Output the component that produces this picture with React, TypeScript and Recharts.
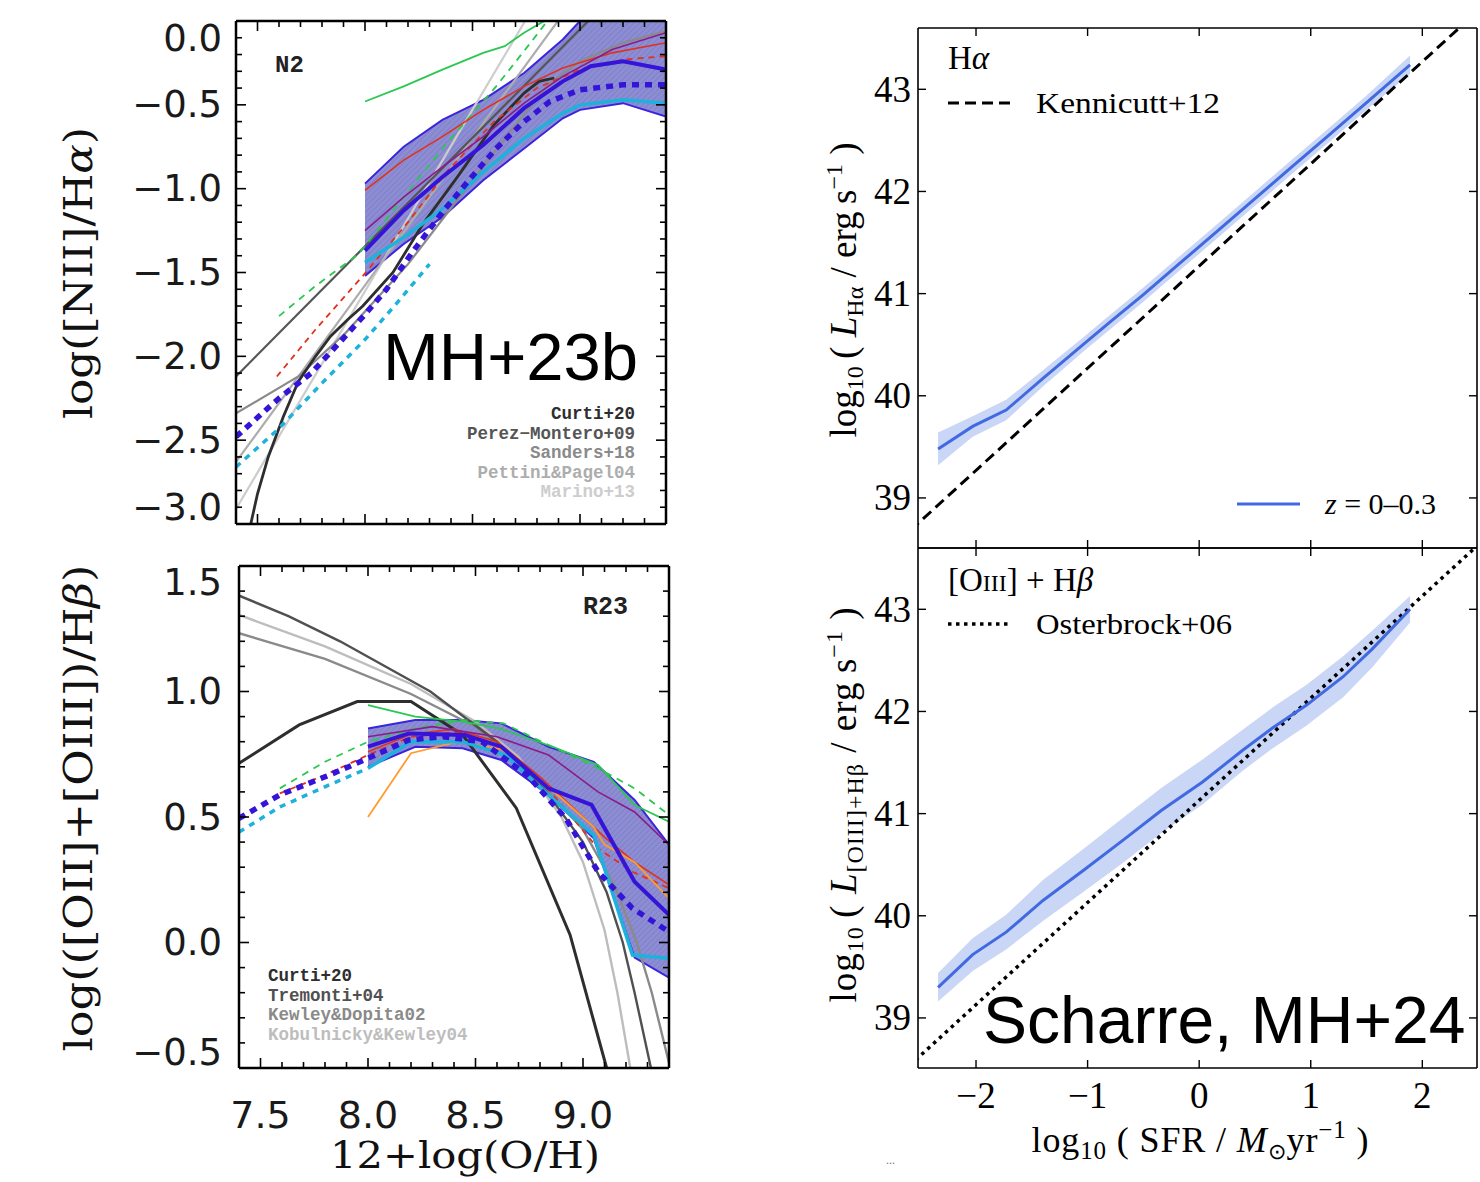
import React from 'react';
import { ComposedChart, Line, Area, XAxis, YAxis } from 'recharts';

// ---------------- N2 panel data (x = 12+log(O/H), y = log([NII]/Ha)) ----------------
const n2BandX = [8.0, 8.18, 8.36, 8.55, 8.74, 8.92, 9.0, 9.2, 9.4];
const n2BandLo = [-1.52, -1.33, -1.17, -0.95, -0.76, -0.58, -0.53, -0.49, -0.57];
const n2BandHi = [-0.97, -0.75, -0.59, -0.47, -0.31, -0.11, 0.0, 0.15, 0.2];

const n2BlueX = [8.0, 8.18, 8.36, 8.55, 8.74, 8.92, 9.05, 9.2, 9.4];
const n2BlueY = [-1.37, -1.13, -0.93, -0.74, -0.52, -0.36, -0.27, -0.24, -0.29];
const n2BlueDashX = [7.4, 7.6, 7.75, 7.88, 8.0, 8.1, 8.22, 8.36, 8.49, 8.61, 8.74, 8.86, 9.0, 9.2, 9.4];
const n2BlueDashY = [-2.48, -2.25, -2.1, -1.92, -1.75, -1.6, -1.38, -1.14, -0.94, -0.76, -0.6, -0.48, -0.41, -0.38, -0.38];
const n2CyanX = [8.0, 8.18, 8.36, 8.55, 8.74, 8.92, 9.0, 9.2, 9.4];
const n2CyanY = [-1.44, -1.29, -1.12, -0.9, -0.7, -0.55, -0.5, -0.47, -0.49];
const n2CyanDashX = [7.4, 7.6, 7.8, 8.0, 8.15, 8.3];
const n2CyanDashY = [-2.66, -2.43, -2.16, -1.9, -1.68, -1.45];
const n2RedX = [8.0, 8.18, 8.36, 8.55, 8.74, 8.92, 9.15, 9.4];
const n2RedY = [-1.01, -0.83, -0.69, -0.53, -0.39, -0.28, -0.19, -0.13];
const n2RedDashX = [7.59, 7.77, 7.99, 8.2, 8.38, 8.6, 8.8, 9.0, 9.2, 9.4];
const n2RedDashY = [-2.12, -1.84, -1.52, -1.2, -0.9, -0.6, -0.4, -0.29, -0.23, -0.21];
const n2PurpleX = [8.0, 8.18, 8.36, 8.55, 8.74, 8.92, 9.15, 9.4];
const n2PurpleY = [-1.25, -1.05, -0.87, -0.69, -0.49, -0.33, -0.17, -0.07];
const n2GreenX = [8.0, 8.18, 8.36, 8.55, 8.65, 8.74, 8.86];
const n2GreenY = [-0.48, -0.39, -0.29, -0.19, -0.15, -0.07, 0.02];
const n2GreenDashX = [7.6, 7.77, 7.97, 8.18, 8.38, 8.61, 8.77, 8.86];
const n2GreenDashY = [-1.76, -1.58, -1.39, -1.05, -0.73, -0.39, -0.13, 0.02];

const n2CurtiX = [7.46, 7.5, 7.55, 7.62, 7.69, 7.77, 7.84, 7.92, 7.99, 8.13, 8.27, 8.43, 8.6, 8.74, 8.81, 8.88];
const n2CurtiY = [-3.05, -2.82, -2.6, -2.36, -2.15, -2.0, -1.88, -1.78, -1.7, -1.5, -1.21, -0.93, -0.62, -0.43, -0.36, -0.34];
const n2PerezX = [7.4, 9.1];
const n2PerezY = [-2.12, 0.08];
const n2SandersX = [7.4, 7.69, 7.91, 8.2, 8.5, 8.7, 8.85, 9.0, 9.2, 9.4];
const n2SandersY = [-2.34, -2.12, -1.86, -1.45, -0.95, -0.62, -0.38, -0.24, -0.13, -0.06];
const n2PettiniX = [7.4, 9.0];
const n2PettiniY = [-2.63, 0.18];
const n2MarinoX = [7.4, 8.8];
const n2MarinoY = [-2.91, 0.12];

// ---------------- R23 panel data ----------------
const r23BandX = [8.0, 8.22, 8.44, 8.62, 8.84, 9.05, 9.24, 9.4];
const r23BandLo = [0.7, 0.78, 0.774, 0.727, 0.588, 0.415, -0.06, -0.14];
const r23BandHi = [0.853, 0.886, 0.886, 0.873, 0.78, 0.72, 0.568, 0.39];

const r23BlueX = [8.0, 8.19, 8.45, 8.62, 8.84, 9.04, 9.24, 9.4];
const r23BlueY = [0.78, 0.833, 0.827, 0.78, 0.614, 0.548, 0.242, 0.11];
const r23BlueDashX = [7.4, 7.59, 7.82, 8.0, 8.19, 8.35, 8.53, 8.74, 8.92, 9.07, 9.23, 9.4];
const r23BlueDashY = [0.495, 0.588, 0.667, 0.734, 0.807, 0.82, 0.8, 0.667, 0.495, 0.282, 0.136, 0.043];
const r23CyanDashX = [7.4, 7.59, 7.82, 8.0];
const r23CyanDashY = [0.44, 0.54, 0.628, 0.694];
const r23CyanX = [8.0, 8.2, 8.44, 8.64, 8.84, 9.05, 9.23, 9.4];
const r23CyanY = [0.694, 0.8, 0.8, 0.747, 0.588, 0.428, -0.05, -0.063];
const r23GreenX = [8.0, 8.22, 8.44, 8.61, 8.86, 9.07, 9.24, 9.4];
const r23GreenY = [0.946, 0.9, 0.88, 0.853, 0.78, 0.707, 0.548, 0.481];
const r23GreenDashX = [7.59, 7.8, 8.0, 8.22, 8.44, 8.63, 8.84, 9.07, 9.24, 9.4];
const r23GreenDashY = [0.614, 0.72, 0.8, 0.853, 0.886, 0.873, 0.787, 0.694, 0.614, 0.508];
const r23RedDashX = [7.59, 7.8, 8.0, 8.2, 8.44, 8.65, 8.85, 9.07, 9.23, 9.4];
const r23RedDashY = [0.594, 0.667, 0.747, 0.82, 0.84, 0.76, 0.6, 0.375, 0.282, 0.216];
const r23RedX = [8.0, 8.2, 8.4, 8.6, 8.8, 9.0, 9.1, 9.24, 9.4];
const r23RedY = [0.76, 0.83, 0.85, 0.8, 0.66, 0.5, 0.42, 0.32, 0.23];
const r23PurpleX = [8.0, 8.3, 8.6, 8.84, 9.07, 9.24, 9.4];
const r23PurpleY = [0.82, 0.86, 0.82, 0.747, 0.6, 0.52, 0.389];
const r23OrangeX = [8.0, 8.2, 8.42, 8.62, 8.84, 9.05, 9.1, 9.24, 9.4];
const r23OrangeY = [0.5, 0.754, 0.8, 0.77, 0.62, 0.46, 0.39, 0.32, 0.176];

const r23CurtiX = [7.4, 7.68, 7.95, 8.2, 8.44, 8.69, 8.94, 9.11];
const r23CurtiY = [0.714, 0.867, 0.96, 0.96, 0.827, 0.535, 0.03, -0.5];
const r23TremontiX = [7.35, 7.63, 7.87, 8.29, 8.6, 8.83, 9.0, 9.11, 9.185, 9.24, 9.316];
const r23TremontiY = [1.4, 1.3, 1.2, 1.0, 0.8, 0.6, 0.4, 0.2, 0.0, -0.2, -0.5];
const r23KDX = [7.4, 7.8, 8.2, 8.5, 8.8, 9.0, 9.15, 9.25, 9.32, 9.4];
const r23KDY = [1.232, 1.13, 0.99, 0.86, 0.64, 0.45, 0.22, 0.0, -0.2, -0.48];
const r23KKX = [7.4, 7.8, 8.2, 8.5, 8.7, 8.9, 9.0, 9.1, 9.16, 9.22];
const r23KKY = [1.305, 1.18, 1.03, 0.88, 0.74, 0.5, 0.32, 0.05, -0.2, -0.5];

// ---------------- Right panels (x = log10 SFR) ----------------
const haX = [-2.34, -2.03, -1.73, -1.4, -1.03, -0.8, -0.5, -0.17, 0.16, 0.49, 0.82, 1.15, 1.49, 1.89];
const haY = [39.48, 39.7, 39.86, 40.17, 40.51, 40.72, 40.99, 41.3, 41.61, 41.92, 42.23, 42.54, 42.86, 43.24];
const haLo = [39.32, 39.6, 39.76, 40.09, 40.44, 40.65, 40.92, 41.23, 41.54, 41.85, 42.16, 42.47, 42.79, 43.15];
const haHi = [39.64, 39.8, 39.96, 40.25, 40.58, 40.79, 41.06, 41.37, 41.68, 41.99, 42.3, 42.61, 42.93, 43.33];
const kennX = [-2.7, 2.7];
const kennY = [38.57, 43.97];

const oX = [-2.34, -2.03, -1.73, -1.4, -1.03, -0.67, -0.34, 0.03, 0.39, 0.66, 0.96, 1.29, 1.55, 1.89];
const oY = [39.3, 39.62, 39.84, 40.15, 40.45, 40.75, 41.03, 41.31, 41.62, 41.84, 42.06, 42.34, 42.61, 43.0];
const oLo = [39.16, 39.46, 39.67, 39.95, 40.24, 40.53, 40.81, 41.09, 41.42, 41.64, 41.86, 42.14, 42.43, 42.87];
const oHi = [39.44, 39.78, 40.01, 40.35, 40.66, 40.97, 41.25, 41.53, 41.82, 42.04, 42.26, 42.54, 42.79, 43.13];
const ostX = [-2.7, 2.7];
const ostY = [38.43, 43.83];

// ---------------- Ticks ----------------
const leftXTicks = [7.5, 7.6, 7.7, 7.8, 7.9, 8.0, 8.1, 8.2, 8.3, 8.4, 8.5, 8.6, 8.7, 8.8, 8.9, 9.0, 9.1, 9.2, 9.3];
const leftXMajor = [7.5, 8.0, 8.5, 9.0];
const n2YTicks = [-3.0, -2.9, -2.8, -2.7, -2.6, -2.5, -2.4, -2.3, -2.2, -2.1, -2.0, -1.9, -1.8, -1.7, -1.6, -1.5, -1.4, -1.3, -1.2, -1.1, -1.0, -0.9, -0.8, -0.7, -0.6, -0.5, -0.4, -0.3, -0.2, -0.1, 0.0];
const n2YMajor = [-3.0, -2.5, -2.0, -1.5, -1.0, -0.5, 0.0];
const r23YTicks = [-0.5, -0.4, -0.3, -0.2, -0.1, 0.0, 0.1, 0.2, 0.3, 0.4, 0.5, 0.6, 0.7, 0.8, 0.9, 1.0, 1.1, 1.2, 1.3, 1.4, 1.5];
const r23YMajor = [-0.5, 0.0, 0.5, 1.0, 1.5];
const rightXTicks = [-2, -1, 0, 1, 2];
const rightYTicks = [39, 40, 41, 42, 43];

const n2Legend = ['Curti+20', 'Perez\u2212Montero+09', 'Sanders+18', 'Pettini&Pagel04', 'Marino+13'];
const n2LegendColors = ['#2e2e2e', '#555555', '#8a8a8a', '#adadad', '#cdcdcd'];
const r23Legend = ['Curti+20', 'Tremonti+04', 'Kewley&Dopita02', 'Kobulnicky&Kewley04'];
const r23LegendColors = ['#2e2e2e', '#505050', '#8a8a8a', '#bdbdbd'];

// ---------------- helpers ----------------
type SeriesDef = { key: string; xs: number[]; ys: number[]; color: string; width: number; dash?: string };
type BandDef = { key: string; xs: number[]; lo: number[]; hi: number[]; fill: string; stroke: string; strokeWidth: number; opacity: number };

function buildRows(series: SeriesDef[], bands: BandDef[]) {
  const map = new Map<number, any>();
  const row = (x: number) => {
    let r = map.get(x);
    if (!r) {
      r = { x };
      map.set(x, r);
    }
    return r;
  };
  bands.forEach((b) => b.xs.forEach((x, i) => { row(x)[b.key] = [b.lo[i], b.hi[i]]; }));
  series.forEach((s) => s.xs.forEach((x, i) => { row(x)[s.key] = s.ys[i]; }));
  return Array.from(map.values()).sort((a, b) => a.x - b.x);
}

const near = (a: number, b: number) => Math.abs(a - b) < 1e-6;

type LabelCfg = { font: string; size: number; gap: number; fmt: (v: number) => string; onlyMajor: boolean; edge?: number[]; edgeShift?: number; fill: string };
type TickCfg = { side: 'bottom' | 'top' | 'left' | 'right'; major: number[]; majorLen: number; minorLen: number; stroke: string; strokeWidth: number; label?: LabelCfg };

function makeTick(cfg: TickCfg) {
  return function TickMark(props: any) {
    const { x, y, payload } = props;
    const v: number = payload.value;
    const isMajor = cfg.major.some((m) => near(m, v));
    const len = isMajor ? cfg.majorLen : cfg.minorLen;
    let x2 = x;
    let y2 = y;
    if (cfg.side === 'bottom') y2 = y - len;
    else if (cfg.side === 'top') y2 = y + len;
    else if (cfg.side === 'left') x2 = x + len;
    else x2 = x - len;
    let label: any = null;
    const L = cfg.label;
    if (L && (!L.onlyMajor || isMajor)) {
      if (cfg.side === 'bottom') {
        label = (
          <text x={x} y={y + L.gap} textAnchor="middle" fontFamily={L.font} fontSize={L.size} fill={L.fill}>
            {L.fmt(v)}
          </text>
        );
      } else if (cfg.side === 'left') {
        let dy = 0;
        if (L.edge && L.edgeShift) {
          if (near(v, L.edge[1])) dy = L.edgeShift;
          if (near(v, L.edge[0])) dy = -L.edgeShift;
        }
        label = (
          <text x={x - L.gap} y={y + dy} textAnchor="end" dominantBaseline="central" fontFamily={L.font} fontSize={L.size} fill={L.fill}>
            {L.fmt(v)}
          </text>
        );
      }
    }
    return (
      <g>
        <line x1={x} y1={y} x2={x2} y2={y2} stroke={cfg.stroke} strokeWidth={cfg.strokeWidth} />
        {label}
      </g>
    );
  };
}

type PanelProps = {
  left: number; top: number; width: number; height: number;
  plot: { l: number; t: number; r: number; b: number };
  xDomain: number[]; yDomain: number[];
  xTicks: number[]; xMajor: number[]; yTicks: number[]; yMajor: number[];
  majorLen: number; minorLen: number; frameW: number; tickW: number;
  xLabel?: LabelCfg; yLabel?: LabelCfg;
  series: SeriesDef[]; bands: BandDef[]; defs?: any;
};

function Panel(p: PanelProps) {
  const rows = buildRows(p.series, p.bands);
  const margin = {
    top: p.plot.t - p.top - 1,
    left: p.plot.l - p.left - 1,
    right: p.left + p.width - p.plot.r - 1,
    bottom: p.top + p.height - p.plot.b - 1,
  };
  const axisLine = { stroke: '#000', strokeWidth: p.frameW };
  const common = { stroke: '#000', strokeWidth: p.tickW, majorLen: p.majorLen, minorLen: p.minorLen };
  return (
    <div style={{ position: 'absolute', left: p.left, top: p.top, width: p.width, height: p.height }}>
      <ComposedChart width={p.width} height={p.height} data={rows} margin={margin}>
        {p.defs ? <defs>{p.defs}</defs> : null}
        <XAxis xAxisId="b" dataKey="x" type="number" orientation="bottom" domain={p.xDomain} allowDataOverflow height={1}
          ticks={p.xTicks} interval={0} tickSize={0} tickMargin={0} tickLine={false} axisLine={axisLine}
          tick={makeTick({ side: 'bottom', major: p.xMajor, ...common, label: p.xLabel })} />
        <XAxis xAxisId="t" dataKey="x" type="number" orientation="top" domain={p.xDomain} allowDataOverflow height={1}
          ticks={p.xTicks} interval={0} tickSize={0} tickMargin={0} tickLine={false} axisLine={axisLine}
          tick={makeTick({ side: 'top', major: p.xMajor, ...common })} />
        <YAxis yAxisId="l" type="number" orientation="left" domain={p.yDomain} allowDataOverflow width={1}
          ticks={p.yTicks} interval={0} tickSize={0} tickMargin={0} tickLine={false} axisLine={axisLine}
          tick={makeTick({ side: 'left', major: p.yMajor, ...common, label: p.yLabel })} />
        <YAxis yAxisId="r" type="number" orientation="right" domain={p.yDomain} allowDataOverflow width={1}
          ticks={p.yTicks} interval={0} tickSize={0} tickMargin={0} tickLine={false} axisLine={axisLine}
          tick={makeTick({ side: 'right', major: p.yMajor, ...common })} />
        {p.bands.map((b) => (
          <Area key={b.key} xAxisId="b" yAxisId="l" dataKey={b.key} type="linear" connectNulls
            fill={b.fill} fillOpacity={b.opacity} stroke={b.stroke} strokeWidth={b.strokeWidth}
            dot={false} activeDot={false} isAnimationActive={false} />
        ))}
        {p.series.map((s) => (
          <Line key={s.key} xAxisId="b" yAxisId="l" dataKey={s.key} type="linear" connectNulls
            stroke={s.color} strokeWidth={s.width} strokeDasharray={s.dash}
            dot={false} activeDot={false} isAnimationActive={false} />
        ))}
      </ComposedChart>
    </div>
  );
}

const fmt1 = (v: number) => v.toFixed(1).replace('-', '\u2212');
const fmt0 = (v: number) => String(v).replace('-', '\u2212');

const BLUE = '#3514d8';
const CYAN = '#1cb2dc';
const RED = '#e2301c';
const PURPLE = '#8a1c8a';
const GREEN = '#2ac850';
const ORANGE = '#ff9c30';

const n2Series: SeriesDef[] = [
  { key: 'marino', xs: n2MarinoX, ys: n2MarinoY, color: '#cdcdcd', width: 2.2 },
  { key: 'pettini', xs: n2PettiniX, ys: n2PettiniY, color: '#adadad', width: 2.2 },
  { key: 'sanders', xs: n2SandersX, ys: n2SandersY, color: '#8a8a8a', width: 2.2 },
  { key: 'perez', xs: n2PerezX, ys: n2PerezY, color: '#555555', width: 2.2 },
  { key: 'curti', xs: n2CurtiX, ys: n2CurtiY, color: '#2e2e2e', width: 2.8 },
  { key: 'greenDash', xs: n2GreenDashX, ys: n2GreenDashY, color: GREEN, width: 1.8, dash: '7 6' },
  { key: 'green', xs: n2GreenX, ys: n2GreenY, color: GREEN, width: 1.8 },
  { key: 'redDash', xs: n2RedDashX, ys: n2RedDashY, color: RED, width: 1.8, dash: '6 5' },
  { key: 'red', xs: n2RedX, ys: n2RedY, color: RED, width: 1.6 },
  { key: 'purple', xs: n2PurpleX, ys: n2PurpleY, color: PURPLE, width: 1.6 },
  { key: 'cyanDash', xs: n2CyanDashX, ys: n2CyanDashY, color: CYAN, width: 3.5, dash: '6 6' },
  { key: 'cyan', xs: n2CyanX, ys: n2CyanY, color: CYAN, width: 3.5 },
  { key: 'blueDash', xs: n2BlueDashX, ys: n2BlueDashY, color: BLUE, width: 5.5, dash: '7 6' },
  { key: 'blue', xs: n2BlueX, ys: n2BlueY, color: BLUE, width: 4 },
];
const n2Bands: BandDef[] = [
  { key: 'band', xs: n2BandX, lo: n2BandLo, hi: n2BandHi, fill: 'url(#hatchN2)', stroke: '#3c24dc', strokeWidth: 2, opacity: 1 },
];

const r23Series: SeriesDef[] = [
  { key: 'kk', xs: r23KKX, ys: r23KKY, color: '#bdbdbd', width: 2.4 },
  { key: 'kd', xs: r23KDX, ys: r23KDY, color: '#8a8a8a', width: 2.4 },
  { key: 'tremonti', xs: r23TremontiX, ys: r23TremontiY, color: '#505050', width: 2.4 },
  { key: 'curti', xs: r23CurtiX, ys: r23CurtiY, color: '#2e2e2e', width: 3 },
  { key: 'greenDash', xs: r23GreenDashX, ys: r23GreenDashY, color: GREEN, width: 1.8, dash: '7 6' },
  { key: 'green', xs: r23GreenX, ys: r23GreenY, color: GREEN, width: 1.8 },
  { key: 'redDash', xs: r23RedDashX, ys: r23RedDashY, color: RED, width: 1.8, dash: '6 5' },
  { key: 'red', xs: r23RedX, ys: r23RedY, color: RED, width: 1.6 },
  { key: 'purple', xs: r23PurpleX, ys: r23PurpleY, color: PURPLE, width: 1.6 },
  { key: 'orange', xs: r23OrangeX, ys: r23OrangeY, color: ORANGE, width: 1.8 },
  { key: 'cyanDash', xs: r23CyanDashX, ys: r23CyanDashY, color: CYAN, width: 3.5, dash: '6 6' },
  { key: 'cyan', xs: r23CyanX, ys: r23CyanY, color: CYAN, width: 3.5 },
  { key: 'blueDash', xs: r23BlueDashX, ys: r23BlueDashY, color: BLUE, width: 5.5, dash: '7 6' },
  { key: 'blue', xs: r23BlueX, ys: r23BlueY, color: BLUE, width: 4 },
];
const r23Bands: BandDef[] = [
  { key: 'band', xs: r23BandX, lo: r23BandLo, hi: r23BandHi, fill: 'url(#hatchR23)', stroke: '#3c24dc', strokeWidth: 2, opacity: 1 },
];

const ROYAL = '#4169e1';
const haSeries: SeriesDef[] = [
  { key: 'kenn', xs: kennX, ys: kennY, color: '#000', width: 3, dash: '11 6' },
  { key: 'ha', xs: haX, ys: haY, color: ROYAL, width: 3 },
];
const haBands: BandDef[] = [
  { key: 'haBand', xs: haX, lo: haLo, hi: haHi, fill: '#c9d6f5', stroke: 'none', strokeWidth: 0, opacity: 1 },
];
const oSeries: SeriesDef[] = [
  { key: 'ost', xs: ostX, ys: ostY, color: '#000', width: 3.5, dash: '3.5 4.5' },
  { key: 'o3', xs: oX, ys: oY, color: ROYAL, width: 3 },
];
const oBands: BandDef[] = [
  { key: 'oBand', xs: oX, lo: oLo, hi: oHi, fill: '#c9d6f5', stroke: 'none', strokeWidth: 0, opacity: 1 },
];

function hatch(id: string) {
  return (
    <pattern id={id} width={4} height={4} patternUnits="userSpaceOnUse" patternTransform="rotate(45)">
      <rect width={4} height={4} fill="#8d8dd3" />
      <line x1={0} y1={0} x2={0} y2={4} stroke="#7777c6" strokeWidth={1.2} />
    </pattern>
  );
}

const LEFT_FONT = "'DejaVu Sans', sans-serif";
const SERIF_L = "'DejaVu Serif', serif";
const SERIF_R = "'Liberation Serif', 'Times New Roman', serif";
const MONO = "'Liberation Mono', 'DejaVu Sans Mono', monospace";

export default function App() {
  const leftYLabelN2: LabelCfg = { font: LEFT_FONT, size: 37, gap: 14, fmt: fmt1, onlyMajor: true, edge: [-3, 0], edgeShift: 17, fill: '#1a1a1a' };
  const leftYLabelR23: LabelCfg = { font: LEFT_FONT, size: 37, gap: 17, fmt: fmt1, onlyMajor: true, edge: [-0.5, 1.5], edgeShift: 16, fill: '#1a1a1a' };
  const leftXLabel: LabelCfg = { font: LEFT_FONT, size: 38, gap: 60, fmt: fmt1, onlyMajor: true, fill: '#1a1a1a' };
  const rightYLabel: LabelCfg = { font: SERIF_R, size: 37, gap: 7, fmt: fmt0, onlyMajor: true, fill: '#000' };
  const rightXLabel: LabelCfg = { font: SERIF_R, size: 37, gap: 40, fmt: fmt0, onlyMajor: true, fill: '#000' };

  return (
    <div style={{ position: 'absolute', left: 0, top: 0, width: 1480, height: 1182, background: '#fff', overflow: 'hidden' }}>
      <Panel left={0} top={0} width={700} height={545} plot={{ l: 236, t: 21, r: 666, b: 524 }}
        xDomain={[7.4, 9.4]} yDomain={[-3, 0]} xTicks={leftXTicks} xMajor={leftXMajor} yTicks={n2YTicks} yMajor={n2YMajor}
        majorLen={10} minorLen={6} frameW={2.5} tickW={1.6} yLabel={leftYLabelN2}
        series={n2Series} bands={n2Bands} defs={hatch('hatchN2')} />
      <Panel left={0} top={545} width={700} height={637} plot={{ l: 239, t: 566, r: 669, b: 1068 }}
        xDomain={[7.4, 9.4]} yDomain={[-0.5, 1.5]} xTicks={leftXTicks} xMajor={leftXMajor} yTicks={r23YTicks} yMajor={r23YMajor}
        majorLen={10} minorLen={6} frameW={2.5} tickW={1.6} yLabel={leftYLabelR23} xLabel={leftXLabel}
        series={r23Series} bands={r23Bands} defs={hatch('hatchR23')} />
      <Panel left={800} top={0} width={680} height={560} plot={{ l: 918, t: 28, r: 1477, b: 548 }}
        xDomain={[-2.52, 2.49]} yDomain={[38.51, 43.6]} xTicks={rightXTicks} xMajor={rightXTicks} yTicks={rightYTicks} yMajor={rightYTicks}
        majorLen={8} minorLen={8} frameW={1.6} tickW={1.4} yLabel={rightYLabel}
        series={haSeries} bands={haBands} />
      <Panel left={800} top={540} width={680} height={642} plot={{ l: 918, t: 548, r: 1477, b: 1068 }}
        xDomain={[-2.52, 2.49]} yDomain={[38.51, 43.6]} xTicks={rightXTicks} xMajor={rightXTicks} yTicks={rightYTicks} yMajor={rightYTicks}
        majorLen={8} minorLen={8} frameW={1.6} tickW={1.4} yLabel={rightYLabel} xLabel={rightXLabel}
        series={oSeries} bands={oBands} />

      <svg width={1480} height={1182} style={{ position: 'absolute', left: 0, top: 0, pointerEvents: 'none' }}>
        {/* Left panels annotations */}
        <text x={275} y={72} fontFamily={MONO} fontWeight="bold" fontSize={24} fill="#222">N2</text>
        <text x={583} y={614} fontFamily={MONO} fontWeight="bold" fontSize={25} fill="#222">R23</text>
        {n2Legend.map((t, i) => (
          <text key={t} x={635} y={419 + i * 19.5} textAnchor="end" fontFamily={MONO} fontWeight="bold" fontSize={17.5} fill={n2LegendColors[i]}>{t}</text>
        ))}
        {r23Legend.map((t, i) => (
          <text key={t} x={268} y={981 + i * 19.5} fontFamily={MONO} fontWeight="bold" fontSize={17.5} fill={r23LegendColors[i]}>{t}</text>
        ))}
        <text x={383} y={380} fontFamily="'Liberation Sans', Arial, sans-serif" fontSize={67} fill="#000">MH+23b</text>

        <text transform="translate(92,273) rotate(-90)" textAnchor="middle" fontFamily={SERIF_L} fontSize={40} fill="#111" textLength={292} lengthAdjust="spacingAndGlyphs">
          log([NII]/H<tspan fontStyle="italic">{'\u03b1'}</tspan>)
        </text>
        <text transform="translate(92,808) rotate(-90)" textAnchor="middle" fontFamily={SERIF_L} fontSize={40} fill="#111" textLength={487} lengthAdjust="spacingAndGlyphs">
          log(([OII]+[OIII])/H<tspan fontStyle="italic">{'\u03b2'}</tspan>)
        </text>
        <text x={465} y={1168} textAnchor="middle" fontFamily={SERIF_L} fontSize={38} fill="#111" textLength={270} lengthAdjust="spacingAndGlyphs">12+log(O/H)</text>

        {/* Right panels annotations */}
        <text x={948} y={69} fontFamily={SERIF_R} fontSize={33} fill="#000">H<tspan fontStyle="italic">{'\u03b1'}</tspan></text>
        <line x1={948} y1={103} x2={1010} y2={103} stroke="#000" strokeWidth={3} strokeDasharray="11 6" />
        <text x={1036} y={113} fontFamily={SERIF_R} fontSize={30} fill="#000" textLength={184} lengthAdjust="spacingAndGlyphs">Kennicutt+12</text>
        <line x1={1237} y1={504} x2={1300} y2={504} stroke={ROYAL} strokeWidth={3} />
        <text x={1325} y={514} fontFamily={SERIF_R} fontSize={30} fill="#000"><tspan fontStyle="italic">z</tspan> = 0{'\u2013'}0.3</text>

        <text x={948} y={591} fontFamily={SERIF_R} fontSize={33} fill="#000">[O<tspan fontSize={24}>III</tspan>] + H<tspan fontStyle="italic">{'\u03b2'}</tspan></text>
        <line x1={948} y1={624} x2={1010} y2={624} stroke="#000" strokeWidth={3.5} strokeDasharray="3.5 4.5" />
        <text x={1036} y={634} fontFamily={SERIF_R} fontSize={30} fill="#000" textLength={196} lengthAdjust="spacingAndGlyphs">Osterbrock+06</text>

        <text transform="translate(856,290) rotate(-90)" textAnchor="middle" fontFamily={SERIF_R} fontSize={37} fill="#000">
          log<tspan dy={7} fontSize={24}>10</tspan><tspan dy={-7}>{'\u2009( '}</tspan><tspan fontStyle="italic">L</tspan><tspan dy={7} fontSize={24}>H{'\u03b1'}</tspan><tspan dy={-7}>{' / erg\u2009s'}</tspan><tspan dy={-14} fontSize={24}>{'\u22121'}</tspan><tspan dy={14}>{' )'}</tspan>
        </text>
        <text transform="translate(856,805) rotate(-90)" textAnchor="middle" fontFamily={SERIF_R} fontSize={37} fill="#000" textLength={395} lengthAdjust="spacing">
          log<tspan dy={7} fontSize={24}>10</tspan><tspan dy={-7}>{'\u2009( '}</tspan><tspan fontStyle="italic">L</tspan><tspan dy={7} fontSize={24}>[OIII]+H{'\u03b2'}</tspan><tspan dy={-7}>{' / erg\u2009s'}</tspan><tspan dy={-14} fontSize={24}>{'\u22121'}</tspan><tspan dy={14}>{' )'}</tspan>
        </text>
        <text x={1200} y={1152} textAnchor="middle" fontFamily={SERIF_R} fontSize={36} fill="#000" textLength={337} lengthAdjust="spacing">
          log<tspan dy={7} fontSize={25}>10</tspan><tspan dy={-7}>{' ( SFR / '}</tspan><tspan fontStyle="italic">M</tspan><tspan dy={7} fontSize={22}>{'\u2299'}</tspan><tspan dy={-7}>yr</tspan><tspan dy={-14} fontSize={25}>{'\u22121'}</tspan><tspan dy={14}>{' )'}</tspan>
        </text>
        <text x={886} y={1164} fontFamily={SERIF_R} fontSize={12} fill="#777">...</text>

        <text x={983} y={1043} fontFamily="'Liberation Sans', Arial, sans-serif" fontSize={66} fill="#000">Scharre, MH+24</text>
      </svg>
    </div>
  );
}
